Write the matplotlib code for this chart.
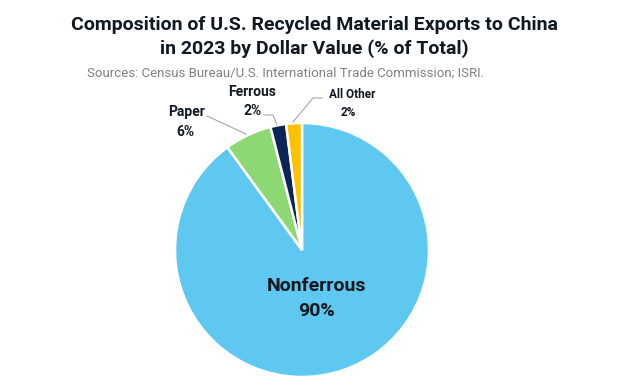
import matplotlib
matplotlib.use("Agg")
import matplotlib.pyplot as plt

plt.rcParams['font.family'] = ['Roboto', 'DejaVu Sans']

categories = ["Nonferrous", "Paper", "Ferrous", "All Other"]
shares = [90, 6, 2, 2]
colors = ["#5FC8F1", "#8DD873", "#0C2456", "#FFC000"]

W, H = 629, 386
CX, CY, R = 302, 250, 127


def px(x, y):
    # pixel position (from top left) -> data coords of the pie
    return (x - CX) / R, (CY - y) / R


fig = plt.figure(figsize=(W / 100, H / 100), dpi=100)
ax = fig.add_axes([0, 0, 1, 1])

ax.pie(shares, colors=colors, startangle=90, counterclock=False,
       wedgeprops=dict(edgecolor="white", linewidth=1.8))

ax.set_xlim(-CX / R, (W - CX) / R)
ax.set_ylim((CY - H) / R, CY / R)
ax.set_aspect("auto")
ax.axis("off")

dark = "#101820"
line_col = "#A6A6A6"

# big label inside
ax.text(*px(316, 286), categories[0], ha="center", va="center",
        fontsize=14, fontweight="bold", color=dark)
ax.text(*px(316, 311), f"{shares[0]}%", ha="center", va="center",
        fontsize=14, fontweight="bold", color=dark)

# outside labels
outside = [
    (1, (186, 112), (185, 132), 10, [(207, 116), (246, 134)]),
    (2, (252, 92), (253, 111), 10, [(265, 115), (273, 115), (277, 125)]),
    (3, (352, 95), (348, 112), 8.5, [(322, 98), (313, 98), (293, 122)]),
]
for i, name_pos, pct_pos, fs, leader in outside:
    ax.text(*px(*name_pos), categories[i], ha="center", va="center",
            fontsize=fs, fontweight="bold", color=dark)
    ax.text(*px(*pct_pos), f"{shares[i]}%", ha="center", va="center",
            fontsize=fs, fontweight="bold", color=dark)
    xs, ys = zip(*[px(*p) for p in leader])
    ax.plot(xs, ys, color=line_col, linewidth=0.8)

fig.text(0.5, 1 - 25 / H, "Composition of U.S. Recycled Material Exports to China",
         ha="center", va="center", fontsize=14, fontweight="bold", color=dark)
fig.text(0.5, 1 - 49 / H, "in 2023 by Dollar Value (% of Total)",
         ha="center", va="center", fontsize=14, fontweight="bold", color=dark)
fig.text(285.5 / W, 1 - 73 / H,
         "Sources: Census Bureau/U.S. International Trade Commission; ISRI.",
         ha="center", va="center", fontsize=9.5, color="#808080")

fig.savefig("out.png", dpi=100, facecolor="white")
